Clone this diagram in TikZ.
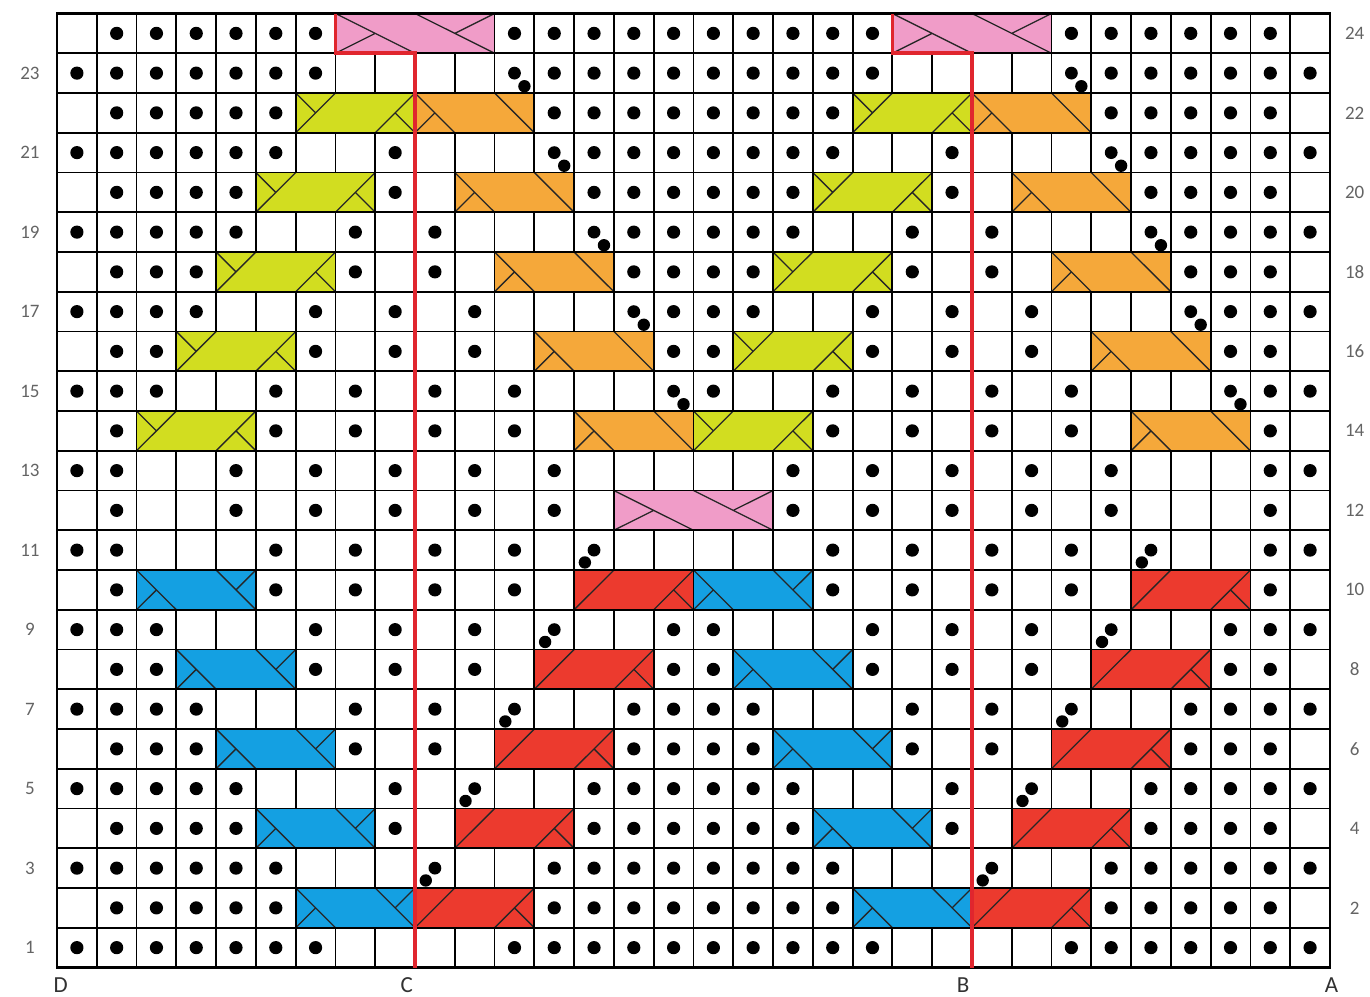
\documentclass[tikz,border=0pt]{standalone}
\usepackage{fontspec}
\setmainfont{Carlito}
\definecolor{limec}{RGB}{210,221,32}
\definecolor{orangec}{RGB}{245,168,58}
\definecolor{bluec}{RGB}{20,160,226}
\definecolor{redc}{RGB}{236,58,46}
\definecolor{pinkc}{RGB}{240,156,200}
\definecolor{redline}{RGB}{224,38,46}
\definecolor{numgrey}{RGB}{100,100,100}
\definecolor{letgrey}{RGB}{50,50,50}
\tikzset{
  gridline/.style={draw=black,line width=1.8pt},
  diag/.style={draw=black!85,line width=1.3pt},
  cellbox/.style={draw=black,line width=1.8pt},
  numlab/.style={text=numgrey,font=\fontsize{19}{19}\selectfont,inner sep=0pt},
  letlab/.style={text=letgrey,font=\fontsize{23}{23}\selectfont,inner sep=0pt},
  redpath/.style={draw=redline,line width=3.6pt},
}
% cable macros: #1 row, #2 leftmost column
\newcommand\limecab[2]{%
  \fill[limec] (#2-1,#1-1) rectangle (#2+2,#1);
  \draw[diag] (#2-1,#1-1) -- (#2,#1) (#2-1,#1) -- (#2-0.5,#1-0.5)
     (#2+1,#1-1) -- (#2+2,#1) (#2+1.5,#1-0.5) -- (#2+2,#1-1);
  \draw[cellbox] (#2-1,#1-1) rectangle (#2+2,#1);}
\newcommand\orangecab[2]{%
  \fill[orangec] (#2-1,#1-1) rectangle (#2+2,#1);
  \draw[diag] (#2-1,#1) -- (#2,#1-1) (#2-1,#1-1) -- (#2-0.5,#1-0.5)
     (#2+1,#1) -- (#2+2,#1-1);
  \draw[cellbox] (#2-1,#1-1) rectangle (#2+2,#1);}
\newcommand\bluecab[2]{%
  \fill[bluec] (#2-1,#1-1) rectangle (#2+2,#1);
  \draw[diag] (#2-1,#1) -- (#2,#1-1) (#2-1,#1-1) -- (#2-0.5,#1-0.5)
     (#2+1,#1) -- (#2+2,#1-1) (#2+1.5,#1-0.5) -- (#2+2,#1);
  \draw[cellbox] (#2-1,#1-1) rectangle (#2+2,#1);}
\newcommand\redcab[2]{%
  \fill[redc] (#2-1,#1-1) rectangle (#2+2,#1);
  \draw[diag] (#2-1,#1-1) -- (#2,#1)
     (#2+1,#1-1) -- (#2+2,#1) (#2+1.5,#1-0.5) -- (#2+2,#1-1);
  \draw[cellbox] (#2-1,#1-1) rectangle (#2+2,#1);}
\newcommand\pinkcab[2]{%
  \fill[pinkc] (#2-1,#1-1) rectangle (#2+3,#1);
  \draw[diag] (#2-1,#1) -- (#2+1,#1-1) (#2-1,#1-1) -- (#2,#1-0.5)
     (#2+1,#1) -- (#2+3,#1-1) (#2+2,#1-0.5) -- (#2+3,#1);
  \draw[cellbox] (#2-1,#1-1) rectangle (#2+3,#1);}
\begin{document}
\begin{tikzpicture}[x=1pt,y=-1pt]
\useasboundingbox[fill=white] (0,0) rectangle (1370,996);
\begin{scope}[shift={(57pt,-967.5pt)},x=39.78pt,y=39.75pt]
  \foreach \i in {1,...,31} {\draw[gridline] (\i,0) -- (\i,24);}
  \foreach \j in {1,...,23} {\draw[gridline] (0,\j) -- (32,\j);}
  % cables
  \foreach \r/\c in {22/7,22/21,20/6,20/20,18/5,18/19,16/4,16/18,14/3,14/17} {\limecab{\r}{\c}}
  \foreach \r/\c in {22/10,22/24,20/11,20/25,18/12,18/26,16/13,16/27,14/14,14/28} {\orangecab{\r}{\c}}
  \foreach \r/\c in {2/7,2/21,4/6,4/20,6/5,6/19,8/4,8/18,10/3,10/17} {\bluecab{\r}{\c}}
  \foreach \r/\c in {2/10,2/24,4/11,4/25,6/12,6/26,8/13,8/27,10/14,10/28} {\redcab{\r}{\c}}
  \foreach \r/\c in {24/8,24/22,12/15} {\pinkcab{\r}{\c}}
  % dots
  \foreach \r/\cl in {
    24/{2,3,4,5,6,7,12,13,14,15,16,17,18,19,20,21,26,27,28,29,30,31},
    23/{1,2,3,4,5,6,7,13,14,15,16,17,18,19,20,21,27,28,29,30,31,32},
    22/{2,3,4,5,6,13,14,15,16,17,18,19,20,27,28,29,30,31},
    21/{1,2,3,4,5,6,9,14,15,16,17,18,19,20,23,28,29,30,31,32},
    20/{2,3,4,5,9,14,15,16,17,18,19,23,28,29,30,31},
    19/{1,2,3,4,5,8,10,15,16,17,18,19,22,24,29,30,31,32},
    18/{2,3,4,8,10,15,16,17,18,22,24,29,30,31},
    17/{1,2,3,4,7,9,11,16,17,18,21,23,25,30,31,32},
    16/{2,3,7,9,11,16,17,21,23,25,30,31},
    15/{1,2,3,6,8,10,12,17,20,22,24,26,31,32},
    14/{2,6,8,10,12,20,22,24,26,31},
    13/{1,2,5,7,9,11,13,19,21,23,25,27,31,32},
    12/{2,5,7,9,11,13,19,21,23,25,27,31},
    11/{1,2,6,8,10,12,20,22,24,26,31,32},
    10/{2,6,8,10,12,20,22,24,26,31},
    9/{1,2,3,7,9,11,16,17,21,23,25,30,31,32},
    8/{2,3,7,9,11,16,17,21,23,25,30,31},
    7/{1,2,3,4,8,10,15,16,17,18,22,24,29,30,31,32},
    6/{2,3,4,8,10,15,16,17,18,22,24,29,30,31},
    5/{1,2,3,4,5,9,14,15,16,17,18,19,23,28,29,30,31,32},
    4/{2,3,4,5,9,14,15,16,17,18,19,23,28,29,30,31},
    3/{1,2,3,4,5,6,13,14,15,16,17,18,19,20,27,28,29,30,31,32},
    2/{2,3,4,5,6,13,14,15,16,17,18,19,20,27,28,29,30,31},
    1/{1,2,3,4,5,6,7,12,13,14,15,16,17,18,19,20,21,26,27,28,29,30,31,32}} {
    \foreach \c in \cl {\fill (\c-0.5,\r-0.5) circle (6.6pt);}
  }
  % twisted double dots, upper half
  \foreach \r/\c in {23/12,23/26,21/13,21/27,19/14,19/28,17/15,17/29,15/16,15/30} {
    \fill (\c-0.5,\r-0.5) circle (6.4pt) (\c-0.25,\r-0.83) circle (6.2pt);}
  % twisted double dots, lower half
  \foreach \r/\c in {11/14,11/28,9/13,9/27,7/12,7/26,5/11,5/25,3/10,3/24} {
    \fill (\c-0.5,\r-0.5) circle (6.4pt) (\c-0.73,\r-0.81) circle (6.2pt);}
  % outer frame
  \draw[gridline,line width=2.6pt] (0,0) rectangle (32,24);
  % red repeat lines
  \coordinate (c0) at (9,0);  \coordinate (c1) at (9,23);
  \coordinate (c2) at (7,23); \coordinate (c3) at (7,24);
  \coordinate (b0) at (23,0); \coordinate (b1) at (23,23);
  \coordinate (b2) at (21,23); \coordinate (b3) at (21,24);
  \draw[redpath,line join=miter] (c0) -- (c1) -- (c2) -- (c3);
  \draw[redpath,line join=miter] (b0) -- (b1) -- (b2) -- (b3);
  % row numbers
  \foreach \r in {1,3,...,23} {\node[numlab] (L\r) at (-0.68,\r-0.5) {\r};}
  \foreach \r in {2,4,...,24} {\node[numlab] (R\r) at (32.62,\r-0.5) {\r};}
  % letters
  \node[letlab] (D) at (0.09,-0.44) {D};
  \node[letlab] (C) at (8.79,-0.44) {C};
  \node[letlab] (B) at (22.78,-0.44) {B};
  \node[letlab] (A) at (32.04,-0.44) {A};
\end{scope}
\end{tikzpicture}
\end{document}
